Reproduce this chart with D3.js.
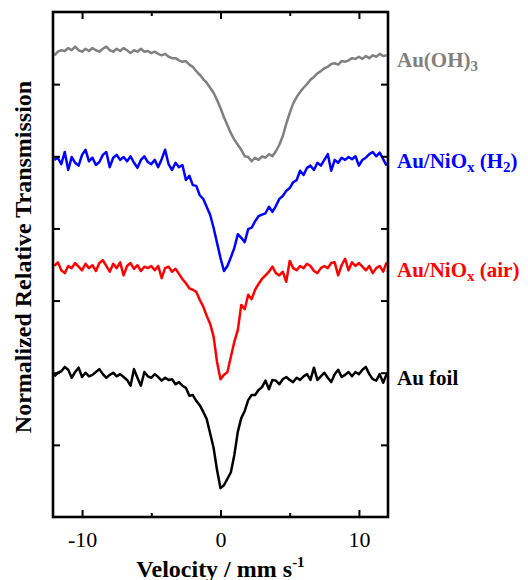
<html>
<head>
 <meta charset="UTF-8">
 <title>Normalized Relative Transmission</title>
 <script type="text/javascript" src="https://cdn.jsdelivr.net/npm/d3@7/dist/d3.min.js"></script>
 <style>
body {
  margin: 0;
  background: #fff;
}
svg text {
  font-family: "Liberation Serif", "Times New Roman", serif;
}
.frame {
  fill: none;
  stroke: #000;
  stroke-width: 2.6px;
}
.curve {
  fill: none;
  stroke-width: 2.5px;
  stroke-linejoin: round;
}
.axis path {
  display: none;
}
.axis line {
  stroke: #000;
  stroke-width: 2px;
}
.axis text {
  font-size: 22px;
  fill: #000;
}
.title {
  font-size: 24px;
  font-weight: bold;
}
.label {
  font-size: 21px;
  font-weight: bold;
}
 </style>
</head>

<body>
<svg id="chart" width="528" height="580"></svg>

<script type="text/javascript">
// velocity channels, mm/s
var velocity = d3.range(-12, 12.001, 0.25);

// transmission, offset per spectrum
var auOH3 = [6.40,6.45,6.47,6.46,6.50,6.47,6.52,6.47,6.45,6.49,6.46,6.50,6.47,6.45,6.49,6.52,
  6.47,6.45,6.49,6.46,6.50,6.47,6.43,6.47,6.45,6.49,6.45,6.46,6.43,6.45,6.42,6.40,
  6.42,6.38,6.36,6.36,6.33,6.31,6.32,6.27,6.24,6.18,6.13,6.07,6.02,5.95,5.88,5.78,
  5.67,5.54,5.43,5.32,5.23,5.16,5.09,5.00,4.99,4.93,4.98,4.95,5.00,4.98,5.03,5.00,
  5.07,5.16,5.28,5.45,5.60,5.73,5.82,5.89,5.95,6.00,6.06,6.10,6.15,6.18,6.22,6.24,
  6.28,6.29,6.27,6.32,6.31,6.33,6.36,6.35,6.38,6.35,6.39,6.36,6.40,6.38,6.42,6.39,6.40];
var auNiOxH2 = [4.95,4.98,4.89,5.06,4.81,4.99,4.91,4.87,5.02,5.09,4.93,4.98,4.88,4.92,5.02,5.06,
  4.85,4.98,5.02,4.95,4.99,4.93,5.00,4.91,4.84,4.95,5.00,4.92,4.89,4.95,4.85,4.96,
  5.09,4.89,4.81,4.91,4.85,4.88,4.67,4.73,4.60,4.59,4.46,4.41,4.30,4.19,4.01,3.80,
  3.59,3.41,3.48,3.60,3.73,3.92,3.87,3.81,3.99,4.01,4.10,4.17,4.19,4.21,4.30,4.23,
  4.31,4.41,4.45,4.52,4.56,4.64,4.67,4.80,4.74,4.84,4.87,4.81,4.91,4.87,4.95,5.03,
  4.80,4.95,4.91,4.98,4.95,4.99,4.96,5.00,4.87,4.95,4.98,5.03,5.06,5.00,5.05,4.96,4.87];
var auNiOxAir = [3.48,3.53,3.42,3.38,3.48,3.45,3.52,3.47,3.42,3.51,3.45,3.49,3.41,3.52,3.56,3.48,
  3.40,3.51,3.45,3.53,3.35,3.48,3.52,3.44,3.49,3.41,3.47,3.45,3.48,3.42,3.48,3.31,
  3.45,3.47,3.40,3.44,3.37,3.30,3.24,3.17,3.15,3.12,3.01,2.92,2.79,2.68,2.50,2.15,
  1.91,1.97,2.01,2.22,2.43,2.59,2.94,2.88,3.08,3.02,3.15,3.23,3.30,3.35,3.40,3.47,
  3.38,3.35,3.40,3.26,3.55,3.45,3.42,3.48,3.45,3.51,3.48,3.41,3.38,3.45,3.48,3.45,
  3.52,3.53,3.35,3.49,3.58,3.42,3.53,3.48,3.52,3.47,3.42,3.48,3.38,3.45,3.48,3.40,3.53];
var auFoil = [1.95,2.00,2.02,2.08,2.04,1.93,2.01,2.07,1.94,2.00,1.95,1.97,2.01,2.05,1.98,1.93,
  1.97,2.00,1.95,1.98,1.94,1.90,1.82,2.05,1.93,1.82,2.01,1.95,1.93,1.98,1.94,1.89,
  1.93,1.90,1.91,1.84,1.87,1.82,1.79,1.68,1.69,1.61,1.55,1.46,1.36,1.16,0.96,0.65,
  0.40,0.44,0.53,0.62,0.86,1.18,1.37,1.47,1.62,1.69,1.69,1.76,1.80,1.89,1.77,1.90,
  1.89,1.84,1.91,1.94,1.90,1.87,1.93,1.90,1.95,1.98,1.90,2.07,1.90,1.95,2.00,1.93,
  1.87,1.98,2.04,1.94,1.97,2.01,1.95,2.01,1.98,2.04,2.08,1.98,1.91,1.89,1.98,1.86,1.98];

var xTicks = [-10, 0, 10],
  xMinorTicks = [-5, 5],
  yTicks = [1, 2, 3, 4, 5, 6];

var series = [
  {values: auOH3, color: "#808080", name: "Au(OH)", sub: "3", tail: ""},
  {values: auNiOxH2, color: "#0000ff", name: "Au/NiO", sub: "x", tail: " (H", sub2: "2", tail2: ")"},
  {values: auNiOxAir, color: "#ff0000", name: "Au/NiO", sub: "x", tail: " (air)"},
  {values: auFoil, color: "#000000", name: "Au foil"}
];

var svg = d3.select("#chart"),
  pLeft = 53, pRight = 388, pTop = 12, pBottom = 517,
  x = d3.scaleLinear().domain([-12.1, 12.1]).range([pLeft, pRight]),
  y = d3.scaleLinear().domain([0, 7]).range([pBottom, pTop]);

var line = d3.line()
  .x(function(d, i){ return x(velocity[i]); })
  .y(function(d){ return y(d); });

series.forEach(function(s){
  svg.append("path")
    .attr("class", "curve")
    .attr("stroke", s.color)
    .attr("d", line(s.values));

  var tailMean = d3.mean(s.values.slice(-10)),
    t = svg.append("text")
      .attr("class", "label")
      .attr("fill", s.color)
      .attr("x", pRight + 9)
      .attr("y", y(tailMean) + 10);
  t.append("tspan").text(s.name);
  if (s.sub) {
    t.append("tspan").attr("font-size", "15px").attr("dy", 4).text(s.sub);
    t.append("tspan").attr("dy", -4).text(s.tail);
  }
  if (s.sub2) {
    t.append("tspan").attr("font-size", "15px").attr("dy", 4).text(s.sub2);
    t.append("tspan").attr("dy", -4).text(s.tail2);
  }
});

// ticks, all pointing into the frame
var fmt = function(d){ return String(d); };
var gb = svg.append("g").attr("class", "axis")
  .attr("transform", "translate(0," + pBottom + ")")
  .call(d3.axisBottom(x).tickValues(xTicks).tickSize(-7).tickFormat(fmt));
gb.selectAll("text").attr("y", 30).attr("dy", null);
svg.append("g").attr("class", "axis")
  .attr("transform", "translate(0," + pBottom + ")")
  .call(d3.axisBottom(x).tickValues(xMinorTicks).tickSize(-4).tickFormat(""));
svg.append("g").attr("class", "axis")
  .attr("transform", "translate(0," + pTop + ")")
  .call(d3.axisTop(x).tickValues(xTicks).tickSize(-7).tickFormat(""));
svg.append("g").attr("class", "axis")
  .attr("transform", "translate(0," + pTop + ")")
  .call(d3.axisTop(x).tickValues(xMinorTicks).tickSize(-4).tickFormat(""));
svg.append("g").attr("class", "axis")
  .attr("transform", "translate(" + pLeft + ",0)")
  .call(d3.axisLeft(y).tickValues(yTicks).tickSize(-7).tickFormat(""));
svg.append("g").attr("class", "axis")
  .attr("transform", "translate(" + pRight + ",0)")
  .call(d3.axisRight(y).tickValues(yTicks).tickSize(-7).tickFormat(""));

svg.append("rect")
  .attr("class", "frame")
  .attr("x", pLeft).attr("y", pTop)
  .attr("width", pRight - pLeft).attr("height", pBottom - pTop);

var xt = svg.append("text")
  .attr("class", "title")
  .attr("text-anchor", "middle")
  .attr("x", (pLeft + pRight) / 2)
  .attr("y", 577);
xt.append("tspan").text("Velocity / mm s");
xt.append("tspan").attr("font-size", "15px").attr("dy", -10).text("-1");

svg.append("text")
  .attr("class", "title")
  .attr("text-anchor", "middle")
  .attr("transform", "translate(31," + 257 + ") rotate(-90)")
  .text("Normalized Relative Transmission");
</script>
</body>
</html>
